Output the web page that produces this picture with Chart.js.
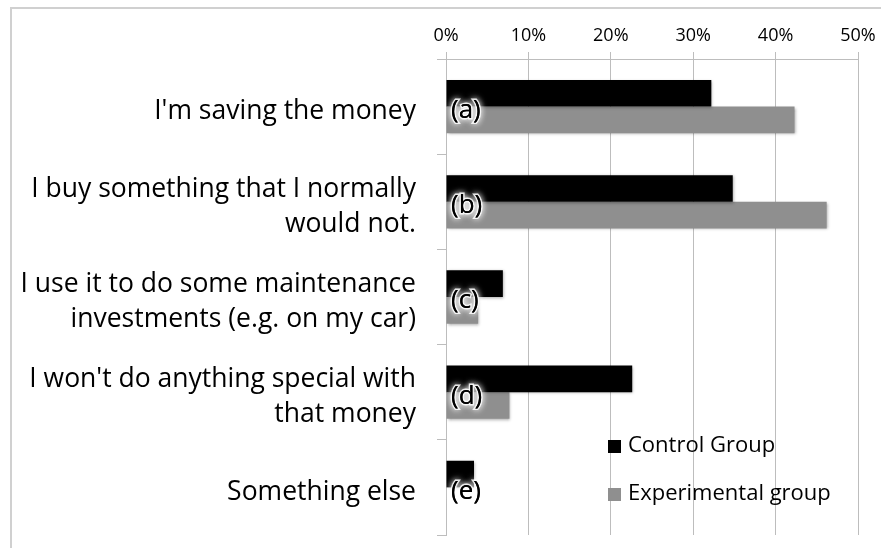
<!DOCTYPE html>
<html>
<head>
<meta charset="utf-8">
<script src="https://cdn.jsdelivr.net/npm/chart.js@4.4.1/dist/chart.umd.min.js"></script>
<style>
  html, body { margin: 0; padding: 0; background: #ffffff; }
  #wrap { width: 881px; height: 548px; position: relative; }
</style>
</head>
<body>
<div id="wrap"><canvas id="c" width="881" height="548"></canvas></div>
<script>
const categories = [
  "I'm saving the money",
  ["I buy something that I normally", "would not."],
  ["I use it to do some maintenance", "investments (e.g. on my car)"],
  ["I won't do anything special with", "that money"],
  "Something else"
];
const letterTags = ["(a)", "(b)", "(c)", "(d)", "(e)"];
const controlGroup = [32.2, 34.8, 6.9, 22.6, 3.4];
const experimentalGroup = [42.3, 46.2, 3.9, 7.7, 0];
const xTicks = [0, 10, 20, 30, 40, 50];

const FONT = "'Open Sans', 'DejaVu Sans', sans-serif";

const frameBorder = {
  id: 'frameBorder',
  beforeDraw(chart) {
    const ctx = chart.ctx;
    ctx.save();
    ctx.strokeStyle = '#d0d0d0';
    ctx.lineWidth = 2;
    ctx.strokeRect(11, 8, 1000, 1000);
    ctx.restore();
  }
};

const barShadow = {
  id: 'barShadow',
  beforeDatasetsDraw(chart) {
    const ctx = chart.ctx;
    ctx.save();
    ctx.shadowColor = 'rgba(0,0,0,0.35)';
    ctx.shadowBlur = 3;
    ctx.shadowOffsetX = 1;
    ctx.shadowOffsetY = 1;
  },
  afterDatasetsDraw(chart) {
    chart.ctx.restore();
  }
};

const tagLabels = {
  id: 'tagLabels',
  afterDatasetsDraw(chart) {
    const ctx = chart.ctx;
    const xs = chart.scales.x, ys = chart.scales.y;
    ctx.save();
    ctx.font = "26px " + FONT;
    ctx.textAlign = 'left';
    ctx.textBaseline = 'middle';
    letterTags.forEach((t, i) => {
      const x = xs.getPixelForValue(0) + 5;
      const y = ys.getPixelForValue(i) + 4;
      ctx.shadowColor = 'rgba(255,255,255,1)';
      ctx.shadowBlur = 6;
      ctx.lineWidth = 3;
      ctx.strokeStyle = 'rgba(255,255,255,0.85)';
      ctx.strokeText(t, x, y);
      ctx.fillStyle = '#000';
      ctx.fillText(t, x, y);
      ctx.shadowBlur = 0;
      ctx.fillText(t, x, y);
    });
    ctx.restore();
  }
};

const innerLegend = {
  id: 'innerLegend',
  afterDraw(chart) {
    const ctx = chart.ctx;
    const area = chart.chartArea;
    ctx.save();
    ctx.font = "22px " + FONT;
    ctx.textAlign = 'left';
    ctx.textBaseline = 'middle';
    const x0 = area.left + 162;
    const rows = [area.bottom - 89, area.bottom - 41];
    chart.data.datasets.forEach((ds, i) => {
      const cy = rows[i];
      ctx.fillStyle = ds.backgroundColor;
      ctx.fillRect(x0, cy - 6, 13, 13);
      ctx.fillStyle = '#000';
      ctx.fillText(ds.label, x0 + 20, cy);
    });
    ctx.restore();
  }
};

new Chart(document.getElementById('c'), {
  type: 'bar',
  data: {
    labels: categories,
    datasets: [
      { label: 'Control Group', data: controlGroup, backgroundColor: '#000000', borderWidth: 0 },
      { label: 'Experimental group', data: experimentalGroup, backgroundColor: '#8f8f8f', borderWidth: 0 }
    ]
  },
  options: {
    indexAxis: 'y',
    responsive: false,
    animation: false,
    devicePixelRatio: 1,
    categoryPercentage: 0.56,
    barPercentage: 1.0,
    layout: { padding: { left: 0, right: 23, top: 0, bottom: 13 } },
    plugins: {
      legend: { display: false },
      tooltip: { enabled: false }
    },
    scales: {
      x: {
        position: 'top',
        min: 0,
        max: 50,
        afterBuildTicks(scale) { scale.ticks = xTicks.map(v => ({ value: v })); },
        afterFit(scale) { scale.height = 59; scale.paddingLeft = 0; scale.paddingRight = 0; },
        ticks: {
          callback: v => v + '%',
          color: '#000',
          padding: 5,
          font: { family: FONT, size: 18 },
          maxRotation: 0
        },
        grid: {
          color: '#bdbdbd',
          lineWidth: 1,
          tickLength: 7,
          drawTicks: true
        },
        border: { display: true, color: '#bdbdbd', width: 1 }
      },
      y: {
        afterFit(scale) { scale.width = 446; scale.paddingTop = 0; scale.paddingBottom = 0; },
        ticks: {
          color: '#000',
          padding: 21,
          labelOffset: 5,
          font: { family: FONT, size: 26.5, lineHeight: 1.32 }
        },
        grid: {
          drawOnChartArea: false,
          color: '#bdbdbd',
          tickLength: 9,
          offset: true
        },
        border: { display: true, color: '#bdbdbd', width: 1 }
      }
    }
  },
  plugins: [frameBorder, barShadow, tagLabels, innerLegend]
});
</script>
</body>
</html>
